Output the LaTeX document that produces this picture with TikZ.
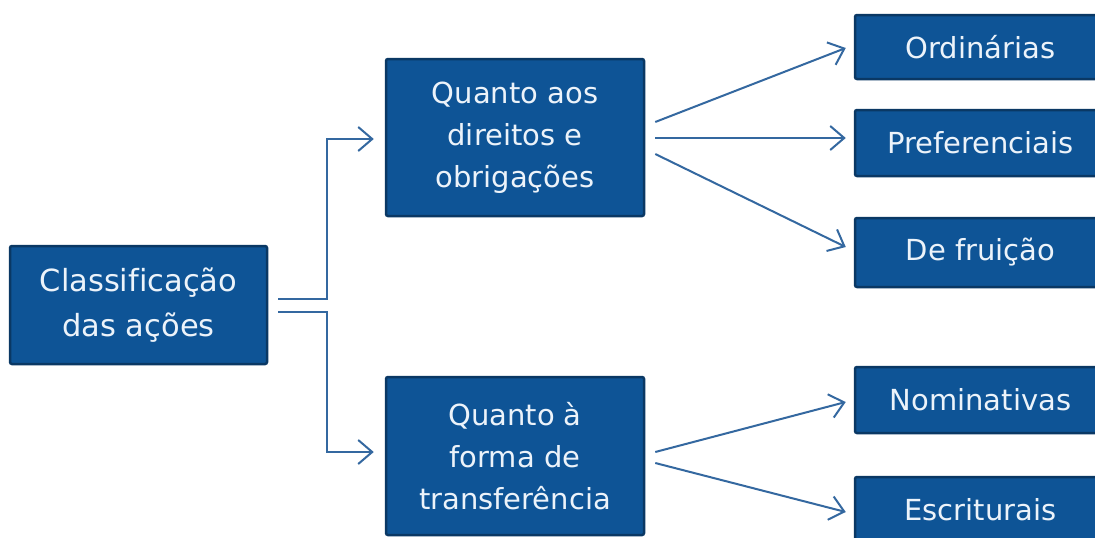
\documentclass[tikz,border=0pt]{standalone}
\usepackage{fontspec}
\setmainfont{DejaVu Sans}[Ligatures=NoCommon]
\usetikzlibrary{arrows.meta,calc}
\definecolor{boxfill}{RGB}{14,84,150}
\definecolor{boxline}{RGB}{10,56,100}
\definecolor{boxtext}{RGB}{236,243,250}
\definecolor{connc}{RGB}{52,104,160}
\begin{document}
\begin{tikzpicture}[x=1pt,y=-1pt,
  box/.style={draw=boxline, line width=2.5pt, fill=boxfill, text=boxtext,
    rounded corners=2pt, align=center, inner sep=0pt,
    font=\fontsize{29}{42}\selectfont},
  leafbox/.style={box, minimum width=251pt},
  conn/.style={draw=connc, line width=2pt, -{Straight Barb[length=14pt,width=24pt]}}]
\useasboundingbox (0,0) rectangle (1095,538);
\clip (0,0) rectangle (1095,538);
\fill[white] (0,0) rectangle (1095,538);

\node[box, minimum width=257pt, minimum height=118pt,
      font=\fontsize{30.5}{45}\selectfont] (L) at (138.5,305) {Classificação\\das ações};
\node[box, minimum width=258pt, minimum height=157pt] (M1) at (515,137.5) {Quanto aos\\direitos e\\obrigações};
\node[box, minimum width=258pt, minimum height=158pt] (M2) at (515,456) {Quanto à\\forma de\\transferência};

\node[leafbox, minimum height=64pt] (O) at (980.5,47) {Ordinárias};
\node[leafbox, minimum height=66pt] (P) at (980.5,143) {Preferenciais};
\node[leafbox, minimum height=69pt] (D) at (980.5,252.5) {De fruição};
\node[leafbox, minimum height=66pt] (N) at (980.5,400) {Nominativas};
\node[leafbox, minimum height=66pt] (E) at (980.5,510) {Escriturais};

\coordinate (l1) at ($(L.east)+(10,-6)$);
\coordinate (l2) at ($(L.east)+(10,7)$);
\draw[conn] (l1) -- ++(49,0) |- ($(M1.west)+(-11,1.5)$);
\draw[conn] (l2) -- ++(49,0) |- ($(M2.west)+(-11,-4)$);

\draw[conn] ($(M1.east)+(10,-15.5)$) -- ($(O.west)+(-8,1)$);
\draw[conn] ($(M1.east)+(10,0.5)$) -- ($(P.west)+(-8,-5)$);
\draw[conn] ($(M1.east)+(10,16.5)$) -- ($(D.west)+(-8,-5.5)$);

\draw[conn] ($(M2.east)+(10,-4)$) -- ($(N.west)+(-8,2)$);
\draw[conn] ($(M2.east)+(10,7)$) -- ($(E.west)+(-8,2)$);
\end{tikzpicture}
\end{document}
